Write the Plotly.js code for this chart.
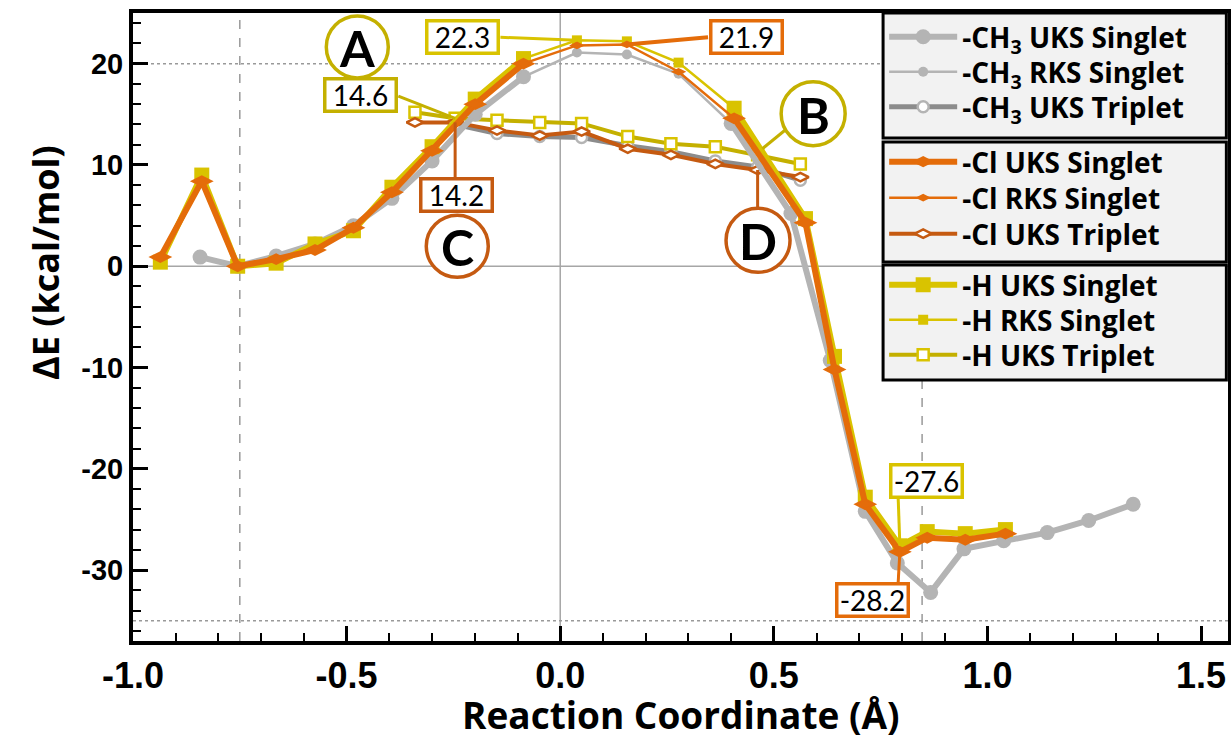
<!DOCTYPE html>
<html>
<head>
<meta charset="utf-8">
<script src="https://cdn.plot.ly/plotly-3.0.1.min.js"></script>
<style>html,body{margin:0;padding:0;background:#fff;}#chart{width:1231px;height:742px;}</style>
</head>
<body>
<div id="chart"></div>
<script>
// ---------- data ----------
const ch3X   = [-0.843,-0.755,-0.665,-0.574,-0.484,-0.394,-0.300,-0.199,-0.086,0.039,0.156,0.277,0.400,0.540,0.632,0.714,0.789,0.867,0.945,1.038,1.140,1.237,1.341];
const ch3Uks = [0.9,0.0,1.0,2.2,4.0,6.7,10.4,15.0,18.7,null,null,null,14.1,5.2,-9.3,-24.2,-29.3,-32.2,-27.9,-27.1,-26.3,-25.1,-23.5];
const ch3Rks = [0.9,0.0,1.0,2.2,4.0,6.7,10.4,15.0,18.7,21.1,20.9,19.0,14.1,5.2,-9.3,-24.2,-29.3,-32.2,-27.9,-27.1,-26.3,-25.1,-23.5];

const singX  = [-0.936,-0.839,-0.755,-0.665,-0.574,-0.484,-0.394,-0.300,-0.199,-0.086,0.039,0.156,0.277,0.407,0.574,0.642,0.714,0.795,0.859,0.948,1.042];
const clUks  = [0.9,8.4,0.0,0.7,1.6,3.8,7.3,11.4,16.0,20.0,null,null,null,14.6,4.3,-10.2,-23.5,-28.2,-26.8,-27.0,-26.4];
const clRks  = [0.9,8.4,0.0,0.7,1.6,3.8,7.3,11.4,16.0,20.0,21.8,21.9,19.2,14.6,4.3,-10.2,-23.5,-28.2,-26.8,-27.0,-26.4];
const hUks   = [0.4,9.0,0.0,0.3,2.2,3.5,7.8,11.8,16.5,20.5,null,null,null,15.6,4.7,-8.9,-22.8,-27.6,-26.2,-26.4,-26.0];
const hRks   = [0.4,9.0,0.0,0.3,2.2,3.5,7.8,11.8,16.5,20.5,22.3,22.2,20.1,15.6,4.7,-8.9,-22.8,-27.6,-26.2,-26.4,-26.0];

const tripX   = [-0.340,-0.246,-0.148,-0.048,0.050,0.158,0.259,0.363,0.462,0.562];
const ch3Trip = [null,14.0,13.1,12.8,12.7,11.9,11.3,10.4,9.8,8.5];
const clTrip  = [14.2,14.2,13.4,12.9,13.3,11.6,11.0,10.1,9.5,8.8];
const hTrip   = [15.2,14.6,14.4,14.2,14.1,12.8,12.1,11.8,11.0,10.1];

const xTickVals = [-1.0,-0.5,0.0,0.5,1.0,1.5];
const xTickText = ['-1.0','-0.5','0.0','0.5','1.0','1.5'];
const yTickVals = [-30,-20,-10,0,10,20];
const yTickText = ['-30','-20','-10','0','10','20'];

// ---------- styles ----------
const C_GRAY='#b4b4b4', C_GRAY_T='#8c8c8c';
const C_OR='#e46c0a', C_OR_T='#c55a11';
const C_YE='#d9c300', C_YE_T='#c4b000';
const BOLD_FAMILY='"Open Sans", Lato, sans-serif';
const LEG_FONT={family:BOLD_FAMILY, size:28, color:'#000', weight:'bold'};

function tr(x,y,name,color,lw,sym,msize,legend,mfill,mline){
  return {x:x,y:y,name:name,type:'scatter',mode:'lines+markers',legend:legend,
    line:{color:color,width:lw},connectgaps:false,
    marker:{symbol:sym,size:msize,color:mfill||color,line:{color:mline||color,width:mfill?2.5:0}}};
}

// each legend row gets its own legend so the row spacing can follow the reference
const traces=[
  tr(tripX,ch3Trip,'-CH<sub>3</sub> UKS Triplet',C_GRAY_T,5,'circle',11,'legend3','#ffffff',C_GRAY),
  tr(tripX,hTrip,'-H UKS Triplet',C_YE_T,4,'square',11,'legend9','#ffffff',C_YE),
  tr(tripX,clTrip,'-Cl UKS Triplet',C_OR_T,4,'diamond-wide',12,'legend6','#ffffff',C_OR_T),
  tr(ch3X,ch3Uks,'-CH<sub>3</sub> UKS Singlet',C_GRAY,6,'circle',15,'legend'),
  tr(ch3X,ch3Rks,'-CH<sub>3</sub> RKS Singlet',C_GRAY,2.5,'circle',10,'legend2'),
  tr(singX,hUks,'-H UKS Singlet',C_YE,6,'square',15,'legend7'),
  tr(singX,hRks,'-H RKS Singlet',C_YE,2.5,'square',10,'legend8'),
  tr(singX,clUks,'-Cl UKS Singlet',C_OR,6,'diamond-wide',17,'legend4'),
  tr(singX,clRks,'-Cl RKS Singlet',C_OR,2.5,'diamond-wide',11,'legend5'),
];

// ---------- reference lines ----------
const shapes=[
  {type:'line',xref:'paper',x0:0,x1:1,yref:'y',y0:0,y1:0,line:{color:'#a6a6a6',width:1.5},layer:'below'},
  {type:'line',yref:'paper',y0:0,y1:1,xref:'x',x0:0,x1:0,line:{color:'#a6a6a6',width:1.5},layer:'below'},
  {type:'line',yref:'paper',y0:0,y1:1,xref:'x',x0:-0.75,x1:-0.75,line:{color:'#999',width:1.5,dash:'dash'},layer:'below'},
  {type:'line',yref:'paper',y0:0,y1:1,xref:'x',x0:0.847,x1:0.847,line:{color:'#999',width:1.5,dash:'dash'},layer:'below'},
  {type:'line',xref:'paper',x0:0,x1:1,yref:'y',y0:20,y1:20,line:{color:'#999',width:1.5,dash:'dot'},layer:'below'},
  {type:'line',xref:'paper',x0:0,x1:1,yref:'y',y0:-35,y1:-35,line:{color:'#999',width:1.5,dash:'dot'},layer:'below'},
];
// legend boxes
const legBoxes=[[1.0,0.801],[0.7946,0.6035],[0.5987,0.4156]];
legBoxes.forEach(b=>shapes.push({type:'rect',xref:'paper',yref:'paper',x0:0.685,x1:0.9985,y0:b[1],y1:b[0],
  fillcolor:'#f2f2f2',line:{color:'#000',width:3}}));

function seg(x0,y0,x1,y1,color,w){shapes.push({type:'line',xref:'x',yref:'y',x0:x0,y0:y0,x1:x1,y1:y1,line:{color:color,width:w}});}
seg(-0.140,22.6,singX[10],hRks[10],C_YE,3);
seg(0.346,22.6,singX[11],clRks[11],C_OR,4);
seg(-0.379,16.8,tripX[1],hTrip[1],C_YE_T,3);
seg(tripX[1],8.6,tripX[1],clTrip[1],C_OR_T,3);
seg(0.531,13.6,0.473,11.6,C_YE_T,3);
seg(tripX[8],5.7,tripX[8],clTrip[8],C_OR_T,3);
seg(0.791,-22.9,singX[17],hRks[17],C_YE,3);
seg(0.791,-31.2,singX[17],clRks[17],C_OR,3);

function circ(x,y,r,color){shapes.push({type:'circle',xref:'x',yref:'y',xsizemode:'pixel',ysizemode:'pixel',
  xanchor:x,yanchor:y,x0:-r,x1:r,y0:-r,y1:r,fillcolor:'#fff',line:{color:color,width:3.5}});}
circ(-0.475,21.65,31,C_YE_T);
circ(0.592,15.06,32,C_YE_T);
circ(-0.241,1.97,31,C_OR_T);
circ(0.463,2.56,32,C_OR_T);

const annotations=[];
function letter(x,y,t){annotations.push({x:x,y:y,xref:'x',yref:'y',text:t,showarrow:false,
  font:{family:'Lato, sans-serif',size:50,color:'#000',weight:'bold'},yshift:-1});}
letter(-0.475,21.65,'A'); letter(0.592,15.06,'B'); letter(-0.241,1.97,'C'); letter(0.463,2.56,'D');
function box(x,y,t,color){annotations.push({x:x,y:y,xref:'x',yref:'y',text:t,showarrow:false,
  font:{family:'Lato, sans-serif',size:28,color:'#000'},bgcolor:'#fff',bordercolor:color,borderwidth:3.5,borderpad:0,width:68,height:29});}
box(-0.229,22.6,hRks[10].toFixed(1),C_YE);
box(0.435,22.6,clRks[11].toFixed(1),C_OR);
box(-0.468,16.9,hTrip[1].toFixed(1),C_YE_T);
box(-0.243,7.0,clTrip[1].toFixed(1),C_OR_T);
box(0.857,-21.2,hRks[17].toFixed(1),C_YE);
box(0.730,-33.0,clRks[17].toFixed(1),C_OR);

// axis titles placed as paper annotations so they sit where the reference has them
annotations.push({xref:'paper',yref:'paper',x:0.5,y:-0.117,yanchor:'middle',xanchor:'center',showarrow:false,
  text:'Reaction Coordinate (Å)',font:{family:BOLD_FAMILY,size:37,color:'#000',weight:'bold'}});
annotations.push({xref:'paper',yref:'paper',x:-0.0804,y:0.6035,yanchor:'middle',xanchor:'center',showarrow:false,textangle:-90,
  text:'ΔE (kcal/mol)',font:{family:BOLD_FAMILY,size:36,color:'#000',weight:'bold'}});

const rowCenters=[37,72,107,162,198,234,285,320,355];   // pixel rows of the legend entries
const layout={
  width:1231,height:742,
  margin:{l:133,r:3,t:13,b:101},
  paper_bgcolor:'#fff',plot_bgcolor:'#fff',
  showlegend:true,
  xaxis:{range:[-1.0,1.563],tickvals:xTickVals,ticktext:xTickText,ticks:'inside',ticklen:15,tickwidth:3,tickcolor:'#000',
    showline:true,linewidth:4,linecolor:'#000',mirror:true,showgrid:false,zeroline:false,
    minor:{dtick:0.1,tick0:0,ticks:'inside',ticklen:8,tickwidth:2,tickcolor:'#000',showgrid:false},
    tickfont:{family:'"Liberation Sans", Arial, sans-serif',size:36,color:'#000',weight:'bold'}},
  yaxis:{range:[-37,25],tickvals:yTickVals,ticktext:yTickText,ticks:'inside',ticklen:15,tickwidth:3,tickcolor:'#000',
    showline:true,linewidth:4,linecolor:'#000',mirror:true,showgrid:false,zeroline:false,
    minor:{dtick:2,tick0:0,ticks:'inside',ticklen:8,tickwidth:2,tickcolor:'#000',showgrid:false},
    tickfont:{family:'"Liberation Sans", Arial, sans-serif',size:29,color:'#000',weight:'bold'}},
  shapes:shapes,annotations:annotations
};
rowCenters.forEach((py,i)=>{
  const key = i===0 ? 'legend' : 'legend'+(i+1);
  layout[key]={bgcolor:'rgba(0,0,0,0)',borderwidth:0,xanchor:'left',yanchor:'middle',x:0.686,
    y:(641-py)/628,font:LEG_FONT,itemwidth:68,tracegroupgap:0};
});
Plotly.newPlot('chart',traces,layout,{displayModeBar:false,staticPlot:true});
</script>
</body>
</html>
